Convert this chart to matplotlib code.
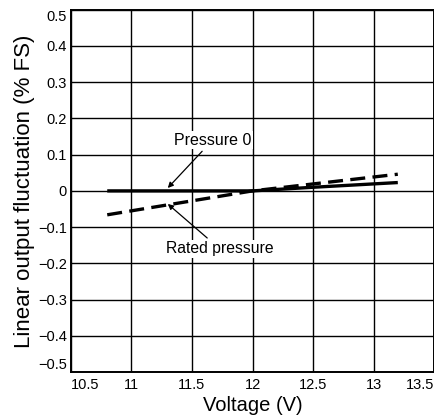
import matplotlib
matplotlib.use('Agg')
import matplotlib.pyplot as plt
from matplotlib.ticker import FixedLocator, FuncFormatter

plt.rcParams['font.family'] = ['Liberation Sans', 'DejaVu Sans']

# data
voltage_p0 = [10.8, 11.5, 12.0, 12.5, 13.2]
output_p0 = [0.0, 0.0, 0.0, 0.01, 0.023]

voltage_rated = [10.8, 12.0, 13.2]
output_rated = [-0.066, 0.0, 0.046]

x_ticks = [10.5, 11, 11.5, 12, 12.5, 13, 13.5]
y_ticks = [-0.5, -0.4, -0.3, -0.2, -0.1, 0, 0.1, 0.2, 0.3, 0.4, 0.5]

fig = plt.figure(figsize=(4.35, 4.2), dpi=100)
ax = fig.add_axes([0.163, 0.114, 0.835, 0.863])

ax.plot(voltage_p0, output_p0, color='black', linewidth=2.4, solid_capstyle='butt')
ax.plot(voltage_rated, output_rated, color='black', linewidth=2.4,
        linestyle=(0, (4.5, 2.2)), dash_capstyle='butt')

ax.set_xlim(10.5, 13.5)
ax.set_ylim(-0.5, 0.5)
ax.xaxis.set_major_locator(FixedLocator(x_ticks))
ax.yaxis.set_major_locator(FixedLocator(y_ticks))

def fmt(v, pos):
    if abs(v) < 1e-9:
        return '0'
    return ('%g' % v).replace('-', '\u2212')

ax.xaxis.set_major_formatter(FuncFormatter(fmt))
ax.yaxis.set_major_formatter(FuncFormatter(fmt))
ax.tick_params(length=0, labelsize=10.5)
ax.tick_params(axis='y', pad=3)
ax.tick_params(axis='x', pad=4)
ax.grid(True, color='black', linewidth=1.0)
ax.set_axisbelow(True)
for sp in ax.spines.values():
    sp.set_linewidth(1.4)

# end labels sit inside the frame like in the reference
xl = ax.get_xticklabels()
xl[0].set_ha('left')
xl[-1].set_ha('right')
yl = ax.get_yticklabels()
yl[0].set_va('bottom')
yl[-1].set_va('top')

ax.set_xlabel('Voltage (V)', fontsize=14.5, labelpad=3)
ax.set_ylabel('Linear output fluctuation (% FS)', fontsize=16, labelpad=2)

ax.annotate('Pressure 0', xy=(11.30, 0.008), xytext=(11.67, 0.14),
            ha='center', va='center', fontsize=11.5,
            bbox=dict(boxstyle='square,pad=0.1', fc='white', ec='none'),
            arrowprops=dict(arrowstyle='-|>', color='black', lw=0.9,
                            mutation_scale=8, shrinkA=2, shrinkB=0))
ax.annotate('Rated pressure', xy=(11.30, -0.036), xytext=(11.73, -0.16),
            ha='center', va='center', fontsize=11.3,
            bbox=dict(boxstyle='square,pad=0.1', fc='white', ec='none'),
            arrowprops=dict(arrowstyle='-|>', color='black', lw=0.9,
                            mutation_scale=8, shrinkA=2, shrinkB=0))

fig.savefig('out.png', dpi=100)
